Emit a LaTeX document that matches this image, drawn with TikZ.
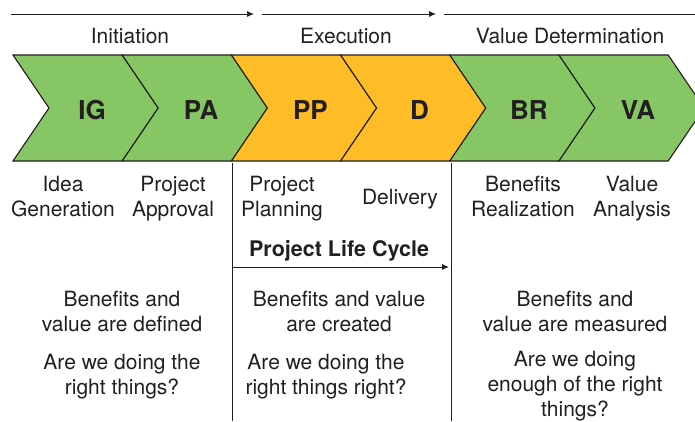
\documentclass[tikz,border=0pt]{standalone}
\usepackage{fontspec}
\setmainfont{TeX Gyre Heros}
\usepackage{tikz}
\usetikzlibrary{arrows.meta,positioning,calc}
\definecolor{grn}{RGB}{134,198,100}
\definecolor{org}{RGB}{254,189,39}
\definecolor{ink}{RGB}{35,31,32}

\begin{document}
\begin{tikzpicture}[x=1pt, y=-1pt,
  chev/.style={draw=ink, line width=1.1pt, line join=miter},
  abbr/.style={font=\fontsize{26}{30}\selectfont\bfseries, text=ink, anchor=base, inner sep=0pt},
  lbl/.style={font=\fontsize{21}{25}\selectfont, text=ink, align=center, anchor=base, inner sep=0pt},
  arr/.style={-{Latex[length=7pt,width=6pt]}, line width=0.9pt, draw=ink},
  rule/.style={line width=0.9pt, draw=ink}
]
\useasboundingbox (0,0) rectangle (695,421);
\clip (0,0) rectangle (695,421);

\foreach \i/\ab/\col in {0/IG/grn,1/PA/grn,2/PP/org,3/D/org,4/BR/grn,5/VA/grn} {
  \pgfmathsetmacro\xl{13+109.2*\i}
  \draw[chev, fill=\col] (\xl,55) -- ++(109.2,0) -- ++(36,53) -- ++(-36,53)
    -- ++(-109.2,0) -- ++(36,-53) -- cycle;
  \node[abbr] (\ab) at (\xl+79,119.5) {\ab};
}

\coordinate (ini-s) at (11,14);
\coordinate (ini-e) at (254,14);
\coordinate (exe-s) at (262,14);
\coordinate (exe-e) at (436,14);
\coordinate (val-s) at (444,14);
\coordinate (val-e) at (695,14);
\draw[arr] (ini-s) -- (ini-e);
\draw[arr] (exe-s) -- (exe-e);
\draw[rule] (val-s) -- (val-e);

\node[lbl] (ini) at (130,43) {Initiation};
\node[lbl] (exe) at (346,43) {Execution};
\node[lbl] (val) at (570,43) {Value Determination};

\node[lbl] (ig-t) at (63,216) {Idea\\Generation};
\node[lbl] (pa-t) at (173,216) {Project\\Approval};
\node[lbl] (pp-t) at (282,216) {Project\\Planning};
\node[lbl] (d-t) at (400,204) {Delivery};
\node[lbl] (br-t) at (523,216) {Benefits\\Realization};
\node[lbl] (va-t) at (632,216) {Value\\Analysis};

\coordinate (sep1-t) at (232,163);
\coordinate (sep1-b) at (232,421);
\coordinate (sep2-t) at (451,163);
\coordinate (sep2-b) at (451,421);
\draw[rule] (sep1-t) -- (sep1-b);
\draw[rule] (sep2-t) -- (sep2-b);

\node[lbl, font=\fontsize{21.5}{25}\selectfont\bfseries] (plc) at (339,256) {Project Life Cycle};
\coordinate (plc-s) at (232,267);
\coordinate (plc-e) at (449,267);
\draw[arr] (plc-s) -- (plc-e);

\node[lbl] (def) at (122,331.5) {Benefits and\\value are defined};
\node[lbl] (cre) at (339,331.5) {Benefits and value\\are created};
\node[lbl] (mea) at (575,331.5) {Benefits and\\value are measured};

\node[lbl] (q1) at (122,394) {Are we doing the\\right things?};
\node[lbl] (q2) at (326,394) {Are we doing the\\right things right?};
\node[lbl] (q3) at (575,416) {Are we doing\\enough of the right\\things?};
\end{tikzpicture}
\end{document}
